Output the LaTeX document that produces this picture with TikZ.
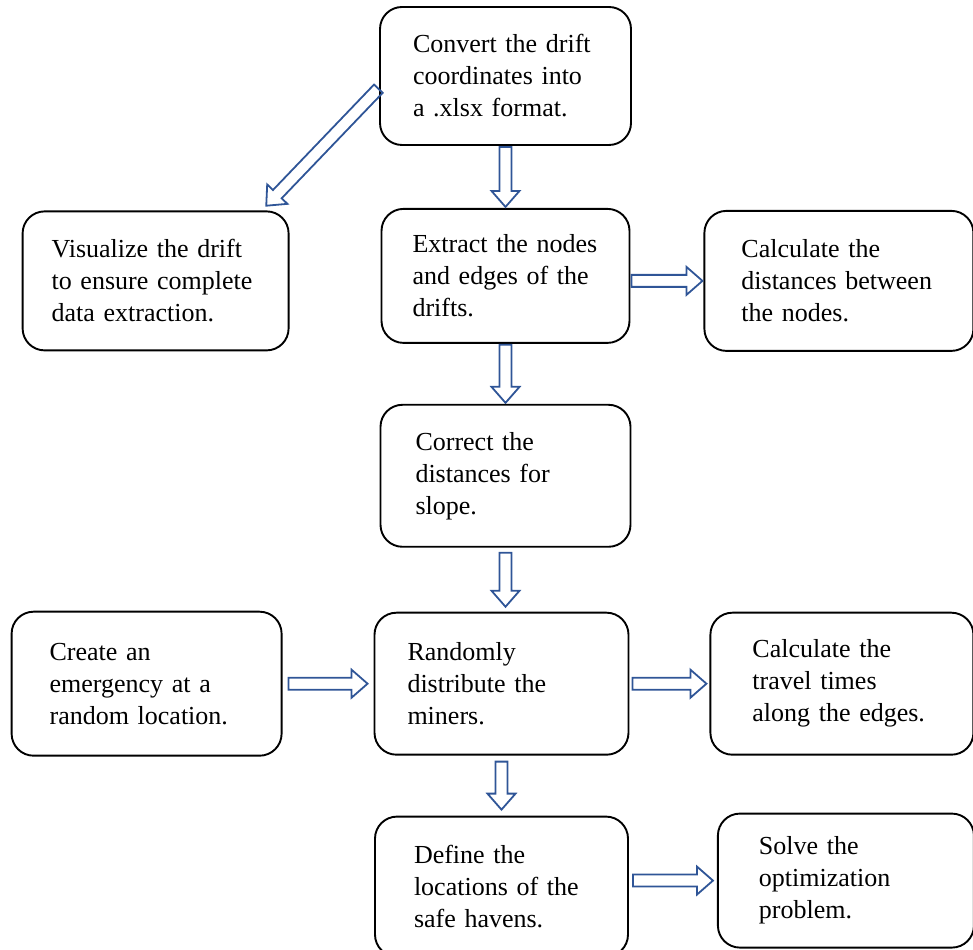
\documentclass[tikz,border=0pt]{standalone}
\usepackage{fontspec}
\setmainfont{Liberation Serif}
\usetikzlibrary{positioning,calc}
\definecolor{arrowblue}{RGB}{47,85,151}
\tikzset{node distance=62pt, % Gap between two boxes
        every node/.style={font=\fontsize{26pt}{32pt}\selectfont},
        stepbox/.style={ % Rounded box for each step
            draw,
            line width=1.9pt,
            rounded corners=22pt,
            align=left,
            text width=#1,
            inner xsep=33pt,
            minimum height=140pt},
        stepbox/.default=184pt,
        hollow/.style={ % Hollow block arrow between two boxes
            draw=arrowblue,
            line width=1.8pt,
            to path={
                let \p1=(\tikztostart), \p2=(\tikztotarget),
                    \n1={atan2(\y2-\y1,\x2-\x1)},
                    \n2={veclen(\x2-\x1,\y2-\y1)}
                in ([shift={(\p1)},rotate=\n1]#1,6pt)
                -- ([shift={(\p1)},rotate=\n1]\n2-#1-16pt,6pt)
                -- ([shift={(\p1)},rotate=\n1]\n2-#1-16pt,14pt)
                -- ([shift={(\p1)},rotate=\n1]\n2-#1,0pt)
                -- ([shift={(\p1)},rotate=\n1]\n2-#1-16pt,-14pt)
                -- ([shift={(\p1)},rotate=\n1]\n2-#1-16pt,-6pt)
                -- ([shift={(\p1)},rotate=\n1]#1,-6pt)
                -- cycle}},
        hollow/.default=1pt
        }

\begin{document}
\begin{tikzpicture}[x=1pt, y=1pt]
    \useasboundingbox (0,0) rectangle (973,949);

    \node[stepbox=185pt, minimum height=138pt] (conv) at (505.5,873) {Convert the drift\\coordinates into\\a .xlsx format.};
    \node[stepbox=186pt, inner xsep=31pt, minimum height=134pt] (extr) [below=of conv] {Extract the nodes\\and edges of the\\drifts.};
    \node[stepbox=208pt, inner xsep=29pt, minimum height=139pt] (vis) [left=91pt of extr, yshift=-5pt] {Visualize the drift\\to ensure complete\\data extraction.};
    \node[stepbox=195pt, inner xsep=37pt] (calc) [right=73pt of extr, yshift=-5pt] {Calculate the\\distances between\\the nodes.};
    \node[stepbox=180pt, inner xsep=35pt, minimum height=142pt] (corr) [below=60pt of extr] {Correct the\\distances for\\slope.};
    \node[stepbox=188pt, minimum height=142pt] (rand) [below=64pt of corr, xshift=-4pt] {Randomly\\distribute the\\miners.};
    \node[stepbox=194pt, inner xsep=38pt, minimum height=144pt] (creat) [left=91pt of rand] {Create an\\emergency at a\\random location.};
    \node[stepbox=179pt, inner xsep=42pt, minimum height=142pt] (travel) [right=80pt of rand] {Calculate the\\travel times\\along the edges.};
    \node[stepbox=175pt, inner xsep=39pt] (defn) [below=60pt of rand] {Define the\\locations of the\\safe havens.};
    \node[stepbox=174pt, inner xsep=41pt, minimum height=134pt] (solve) [right=88pt of defn, yshift=6pt] {Solve the\\optimization\\problem.};

    \draw[hollow] (conv.south) to (extr.north);
    \draw[hollow] ($(conv.west)+(0,-12)$) to ($(vis.north east)+(-24,4)$);
    \draw[hollow] (extr.east |- calc.west) to (calc.west);
    \draw[hollow] (extr.south) to (corr.north);
    \draw[hollow=5pt] (corr.south) to (corr.south |- rand.north);
    \draw[hollow=6pt] (creat.east) to (rand.west);
    \draw[hollow=3pt] (rand.east) to (travel.west);
    \draw[hollow=6pt] (rand.south) to (defn.north);
    \draw[hollow=4pt] (defn.east |- solve.west) to (solve.west);
\end{tikzpicture}
\end{document}
